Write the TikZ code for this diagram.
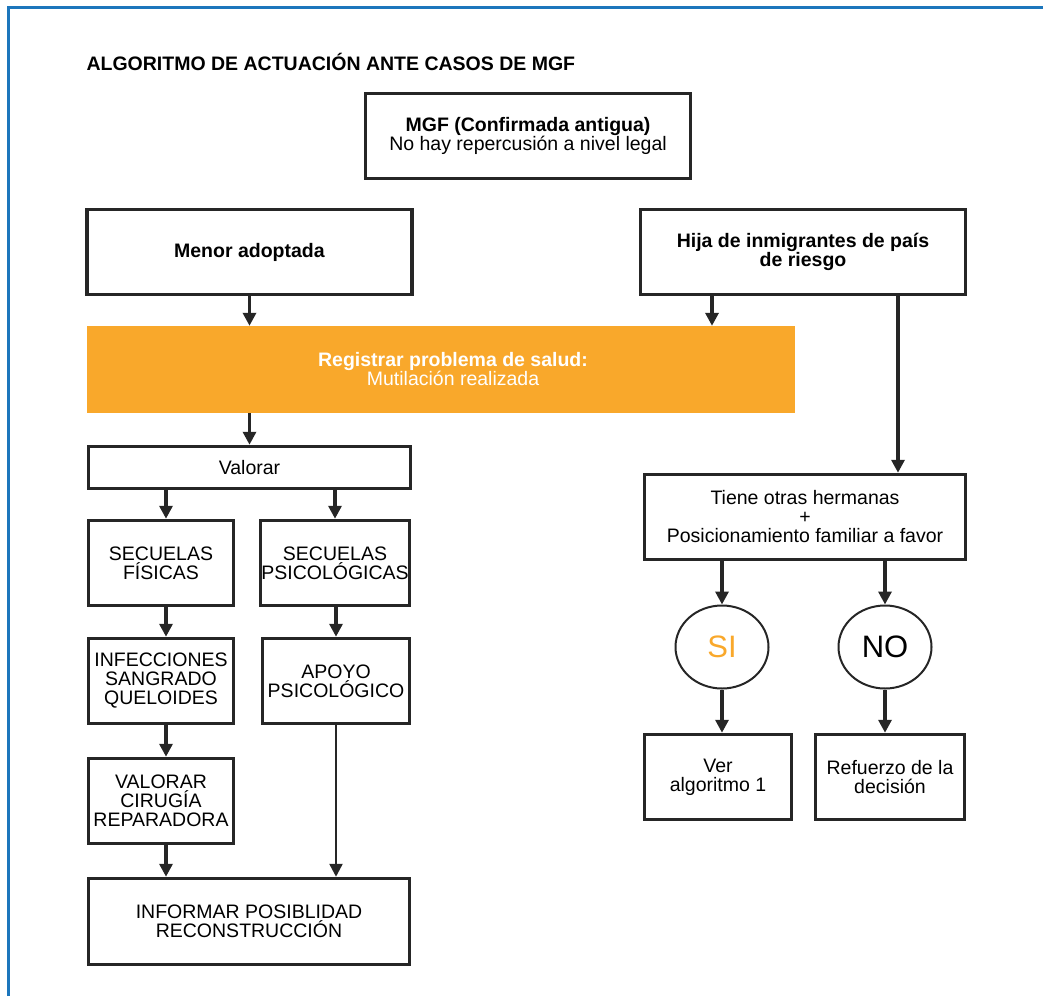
\documentclass[tikz,border=0pt]{standalone}
\usepackage{fontspec}
\setmainfont{Liberation Sans}
\usepackage{xcolor}
\usepackage{tikz}
\usetikzlibrary{shapes,arrows.meta,positioning,calc}

\definecolor{mgforange}{HTML}{F9A82B}
\definecolor{mgfblue}{HTML}{1C76BC}

\begin{document}
\begin{tikzpicture}[
    x=1pt, y=-1pt,
    font=\fontsize{19.5}{19}\selectfont,
    bigbox/.style={rectangle, draw=black!85, line width=3.5pt, fill=white, align=center, minimum width=325pt, minimum height=85pt, inner sep=2pt},
    smallbox/.style={rectangle, draw=black!85, line width=3.5pt, fill=white, align=center, minimum width=147pt, minimum height=85pt, inner sep=1pt},
    regbox/.style={rectangle, fill=mgforange, text=white, align=center, minimum width=708pt, minimum height=87pt},
    choice/.style={ellipse, draw=black!85, line width=2pt, minimum width=93pt, minimum height=83pt, font=\fontsize{31}{32}\selectfont},
    arrow/.style={-{Triangle[length=13pt, width=13pt]}, line width=3.5pt, draw=black!85},
    thinarrow/.style={-{Triangle[length=13pt, width=13pt]}, line width=2.5pt, draw=black!85},
    frameline/.style={draw=mgfblue, line width=3pt}
]
    \useasboundingbox (0,0) rectangle (1043,996);
    \draw [frameline] (8,996) -- (8,7) -- (1043,7);

    \node [anchor=west, font=\fontsize{19.5}{20}\selectfont\bfseries] (title) at (83,62) {ALGORITMO DE ACTUACIÓN ANTE CASOS DE MGF};

    \node [bigbox] (mgf) at (528,136) {\textbf{MGF (Confirmada antigua)}\\No hay repercusión a nivel legal};
    \node [bigbox] (menor) at (249.5,252) {\textbf{Menor adoptada}};
    \node [bigbox] (hija) at (803,252) {\textbf{Hija de inmigrantes de país}\\\textbf{de riesgo}};
    \node [regbox] (reg) at (441,369.5) {\hspace*{24pt}\textbf{Registrar problema de salud:}\\\hspace*{24pt}Mutilación realizada};

    \node [bigbox, minimum width=322pt, minimum height=42pt] (valorar) at (249.5,467.5) {Valorar};
    \node [smallbox, minimum width=145pt] (fisicas) at (161,563) {SECUELAS\\FÍSICAS};
    \node [smallbox] (psico) at (335,563) {SECUELAS\\PSICOLÓGICAS};
    \node [smallbox, minimum width=145pt] (infec) at (161,681) {INFECCIONES\\SANGRADO\\QUELOIDES};
    \node [smallbox] (apoyo) at (336,681) {APOYO\\PSICOLÓGICO};
    \node [smallbox, minimum width=145pt] (cirugia) at (161,801) {VALORAR\\CIRUGÍA\\REPARADORA};
    \node [bigbox, minimum width=321pt, minimum height=86pt] (informar) at (249,921.5) {INFORMAR POSIBLIDAD\\RECONSTRUCCIÓN};

    \node [bigbox, minimum width=321pt] (tiene) at (805,517) {Tiene otras hermanas\\+\\Posicionamiento familiar a favor};
    \node [choice, text=mgforange] (si) at (722,647) {SI};
    \node [choice] (no) at (885,647) {NO};
    \node [smallbox] (ver) at (718,777) {Ver\\algoritmo 1};
    \node [smallbox, minimum width=149pt] (refuerzo) at (890,777) {Refuerzo de la\\decisión};

    \draw [arrow] (menor) -- (menor |- reg.north);
    \draw [arrow] ([xshift=-91pt]hija.south) -- ([xshift=-91pt]hija.south |- reg.north);
    \draw [arrow] ([xshift=95pt]hija.south) -- ([xshift=95pt]hija.south |- tiene.north);
    \draw [arrow] (reg.south -| valorar) -- (valorar);
    \draw [arrow] ([xshift=5pt]valorar.south -| fisicas) -- ([xshift=5pt]fisicas.north);
    \draw [arrow] (valorar.south -| psico) -- (psico);
    \draw [arrow] ([xshift=5pt]fisicas.south) -- ([xshift=5pt]infec.north);
    \draw [arrow] (psico.south -| apoyo) -- (apoyo);
    \draw [arrow] ([xshift=5pt]infec.south) -- ([xshift=5pt]cirugia.north);
    \draw [arrow] ([xshift=5pt]cirugia.south) -- ([xshift=5pt]cirugia.south |- informar.north);
    \draw [thinarrow] (apoyo) -- (apoyo |- informar.north);
    \draw [arrow] (tiene.south -| si) -- (si);
    \draw [arrow] (tiene.south -| no) -- (no);
    \draw [arrow] (si) -- (si |- ver.north);
    \draw [arrow] (no) -- (no |- refuerzo.north);
\end{tikzpicture}
\end{document}
